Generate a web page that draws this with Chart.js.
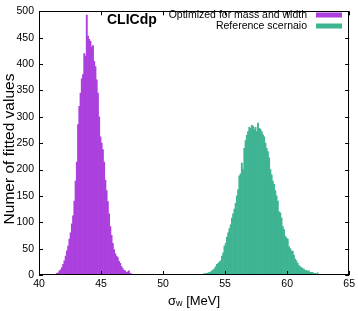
<!DOCTYPE html>
<html>
<head>
<meta charset="utf-8">
<script src="https://cdn.jsdelivr.net/npm/chart.js@4"></script>
<style>
  html, body { margin: 0; padding: 0; background: #fff; }
  canvas { display: block; }
</style>
</head>
<body>
<canvas id="grafico" width="358" height="311"></canvas>
<script>
  // Histogramas de sigma_w (bins de 0.1 MeV)
  const binWidth = 0.1;
  const optimizedStart = 41.45;
  const optimizedCounts = [
    3, 4, 8, 10, 14, 20, 27, 36, 46, 55,
    68, 80, 97, 112, 140, 178, 214, 285, 320, 345,
    372, 380, 420, 415, 493, 453, 447, 443, 432, 435,
    405, 395, 370, 345, 300, 262, 250, 238, 214, 180,
    160, 139, 116, 92, 75, 60, 48, 40, 36, 33,
    26, 22, 16, 12, 9, 8, 5, 6, 8, 3,
    2
  ];
  const referenceStart = 53.35;
  const referenceCounts = [
    3, 2, 3, 4, 5, 6, 8, 10, 12, 16,
    20, 22, 25, 27, 36, 42, 55, 60, 72, 80,
    88, 95, 108, 116, 125, 136, 150, 162, 188, 192,
    212, 200, 240, 255, 265, 272, 280, 278, 284, 282,
    276, 280, 272, 288, 278, 276, 272, 266, 262, 250,
    240, 234, 222, 200, 190, 178, 172, 160, 150, 140,
    120, 118, 108, 92, 86, 74, 70, 68, 54, 50,
    46, 45, 38, 30, 27, 22, 18, 16, 14, 12,
    11, 9, 9, 7, 8, 5, 5, 5, 2, 3,
    1, 4
  ];
  const seriesLabels = ['Optimized for mass and width', 'Reference scernaio'];
  const seriesColors = ['rgb(172,64,222)', 'rgb(62,180,146)'];
  const xTicks = [40, 45, 50, 55, 60, 65];
  const yTicks = [0, 50, 100, 150, 200, 250, 300, 350, 400, 450, 500];

  const fonte = '"Liberation Sans", Arial, Helvetica, sans-serif';

  function toPoints(start, counts) {
    return counts.map((c, i) => ({ x: +(start + i * binWidth).toFixed(2), y: c }));
  }

  // moldura estilo gnuplot, ticks para dentro, legenda e textos
  const moldura = {
    id: 'moldura',
    afterDraw(chart) {
      const { ctx, chartArea: a, scales } = chart;
      const sx = scales.x, sy = scales.y;
      ctx.save();
      ctx.strokeStyle = '#000';
      ctx.lineWidth = 1;
      ctx.strokeRect(Math.round(a.left) + 0.5, Math.round(a.top) + 0.5,
        Math.round(a.right - a.left) - 1, Math.round(a.bottom - a.top) - 1);

      ctx.beginPath();
      xTicks.forEach(v => {
        const px = Math.round(sx.getPixelForValue(v)) + 0.5;
        ctx.moveTo(px, a.bottom); ctx.lineTo(px, a.bottom - 4);
        ctx.moveTo(px, a.top); ctx.lineTo(px, a.top + 4);
      });
      yTicks.forEach(v => {
        const py = Math.round(sy.getPixelForValue(v)) + 0.5;
        ctx.moveTo(a.left, py); ctx.lineTo(a.left + 4, py);
        ctx.moveTo(a.right, py); ctx.lineTo(a.right - 4, py);
      });
      ctx.stroke();

      // CLICdp
      ctx.fillStyle = '#000';
      ctx.textBaseline = 'middle';
      ctx.textAlign = 'left';
      ctx.font = 'bold 14px ' + fonte;
      ctx.fillText('CLICdp', 107, 20);

      // legenda
      ctx.font = '10.5px ' + fonte;
      ctx.textAlign = 'right';
      seriesLabels.forEach((txt, i) => {
        const yy = 15 + i * 11;
        ctx.fillStyle = '#000';
        ctx.fillText(txt, 307, yy);
        ctx.fillStyle = seriesColors[i];
        ctx.fillRect(316, yy - 2.5, 26, 5);
      });

      // titulo do eixo x com subscrito
      ctx.fillStyle = '#000';
      ctx.textAlign = 'left';
      const fMain = '13px ' + fonte, fSub = '9px ' + fonte;
      ctx.font = fMain; const w1 = ctx.measureText('σ').width;
      ctx.font = fSub; const w2 = ctx.measureText('w').width;
      ctx.font = fMain; const w3 = ctx.measureText(' [MeV]').width;
      let xx = (a.left + a.right) / 2 - (w1 + w2 + w3) / 2;
      const yBase = 301;
      ctx.font = fMain; ctx.fillText('σ', xx, yBase); xx += w1;
      ctx.font = fSub; ctx.fillText('w', xx, yBase + 3); xx += w2;
      ctx.font = fMain; ctx.fillText(' [MeV]', xx, yBase);

      // titulo do eixo y
      ctx.save();
      ctx.translate(10, 149);
      ctx.rotate(-Math.PI / 2);
      ctx.textAlign = 'center';
      ctx.font = '15.5px ' + fonte;
      ctx.fillText('Numer of fitted values', 0, 0);
      ctx.restore();

      ctx.restore();
    }
  };

  new Chart(document.getElementById('grafico'), {
    type: 'bar',
    data: {
      datasets: [
        { label: seriesLabels[0], data: toPoints(optimizedStart, optimizedCounts), backgroundColor: seriesColors[0], grouped: false, barPercentage: 1, categoryPercentage: 1, borderWidth: 0 },
        { label: seriesLabels[1], data: toPoints(referenceStart, referenceCounts), backgroundColor: seriesColors[1], grouped: false, barPercentage: 1, categoryPercentage: 1, borderWidth: 0 }
      ]
    },
    options: {
      responsive: false,
      animation: false,
      layout: { padding: { left: 0, right: 8, top: 7, bottom: 0 } },
      plugins: { legend: { display: false }, tooltip: { enabled: false } },
      scales: {
        x: {
          type: 'linear', min: 40, max: 65, offset: false,
          grid: { display: false, drawTicks: false, offset: false },
          border: { display: false },
          ticks: { stepSize: 5, padding: 3, color: '#000', font: { family: fonte, size: 10.5 } },
          afterFit: s => { s.height = 36; }
        },
        y: {
          min: 0, max: 500,
          grid: { display: false, drawTicks: false },
          border: { display: false },
          ticks: { stepSize: 50, padding: 5, color: '#000', font: { family: fonte, size: 10.5 } },
          afterFit: s => { s.width = 39; }
        }
      }
    },
    plugins: [moldura]
  });
</script>
</body>
</html>
